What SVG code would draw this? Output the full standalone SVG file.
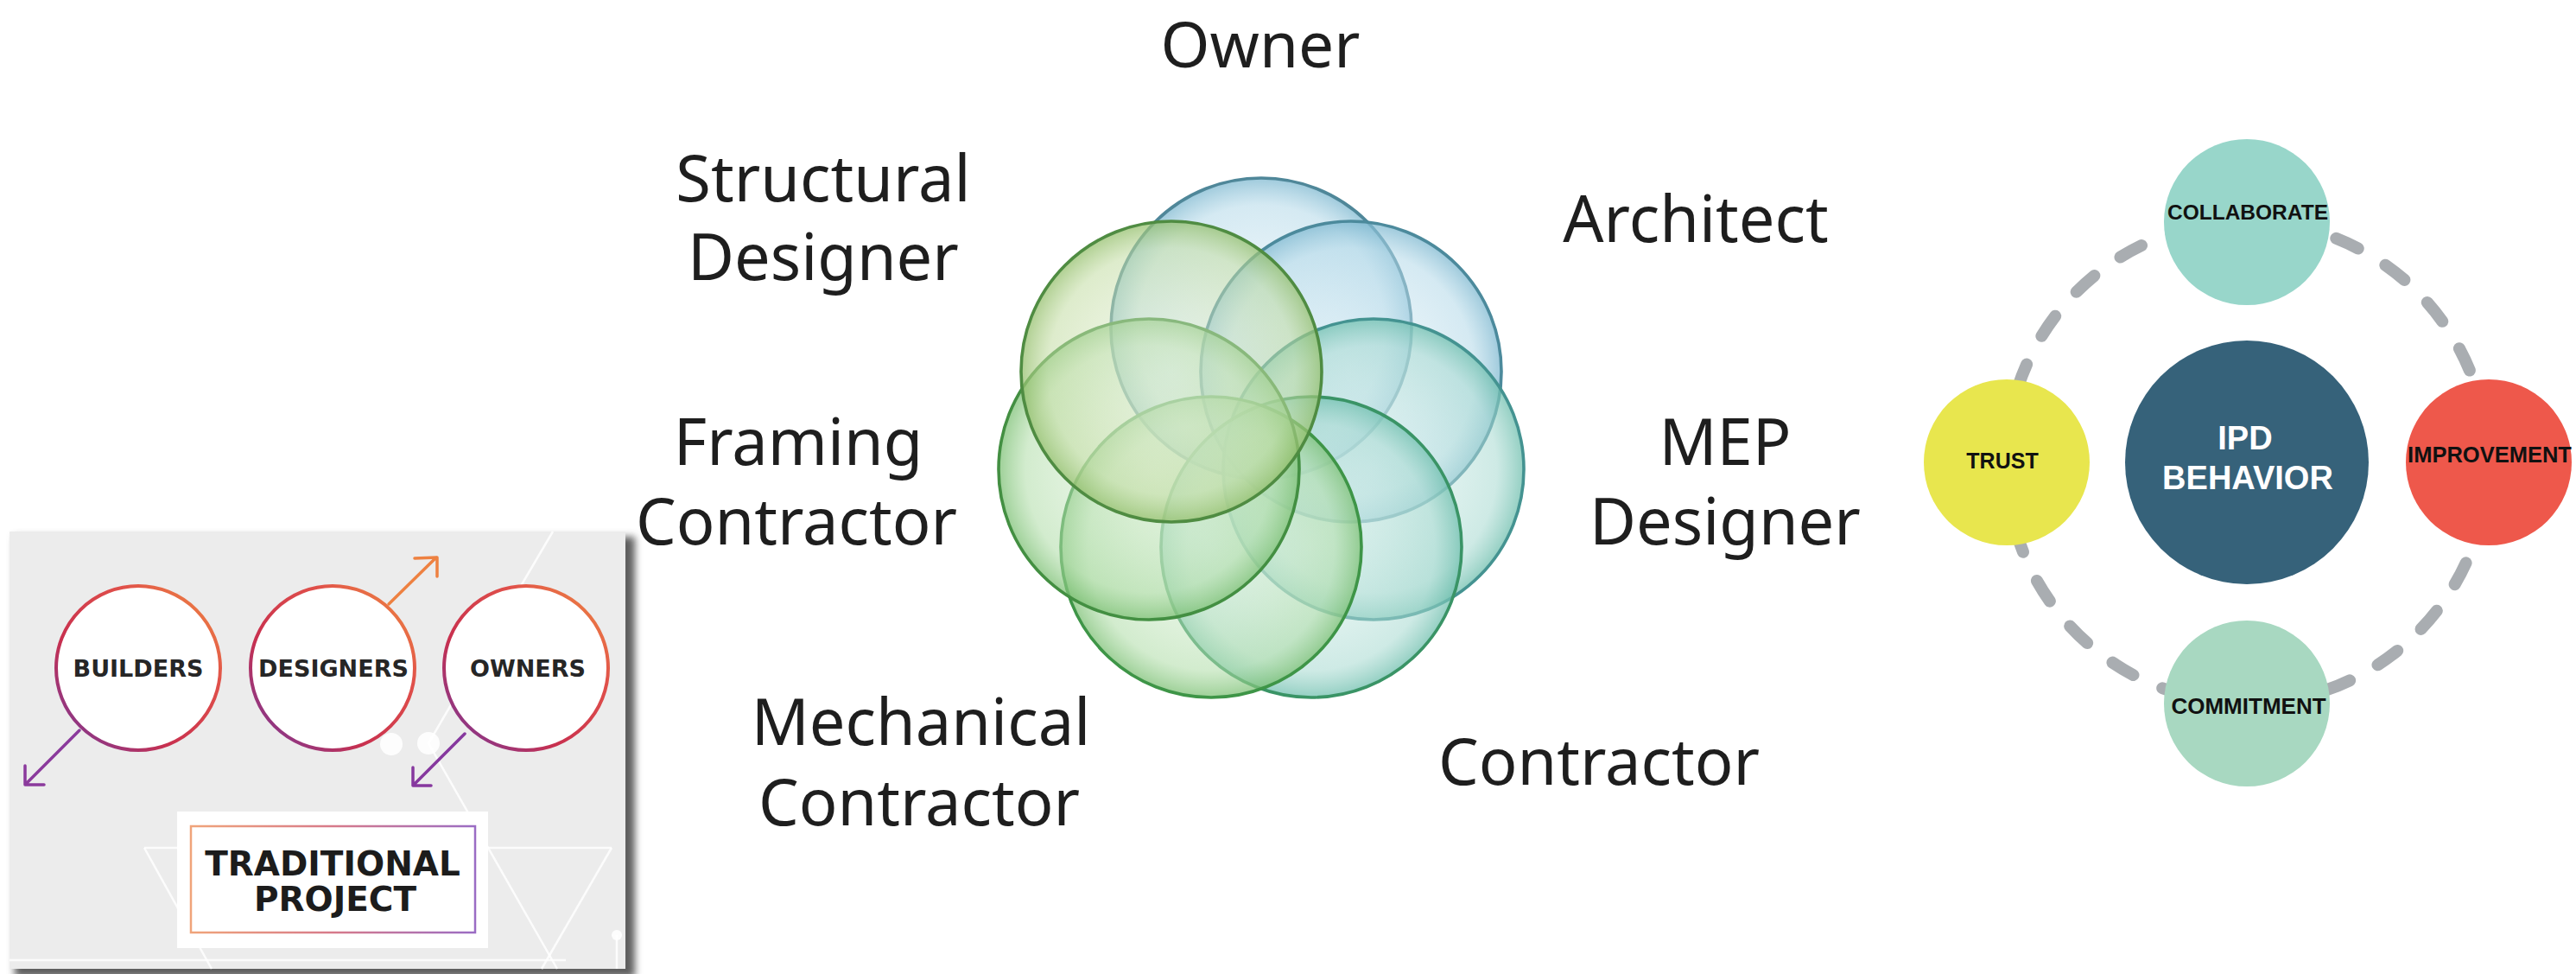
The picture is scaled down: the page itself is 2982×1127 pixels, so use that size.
<svg xmlns="http://www.w3.org/2000/svg" width="2982" height="1127" viewBox="0 0 2982 1127">
<defs>
<style>
.lbl{font-family:"Noto Sans","Open Sans",sans-serif;font-size:74px;fill:#1e1e1e;text-anchor:middle}
.cl{font-family:"DejaVu Sans",sans-serif;font-weight:bold;font-size:27px;fill:#262626;text-anchor:middle}
.ring{fill:#fff;stroke:url(#ringGrad);stroke-width:4}
.wl{stroke:#ffffff;stroke-width:2.5;fill:none;opacity:0.85}
.ipd{font-family:"Liberation Sans",Arial,sans-serif;font-weight:bold;text-anchor:middle}
.pet{stroke-width:3.6}
</style>
<linearGradient id="ringGrad" x1="0" y1="1" x2="1" y2="0">
<stop offset="0" stop-color="#6e3aa2"/>
<stop offset="0.35" stop-color="#c8304f"/>
<stop offset="0.7" stop-color="#e0504a"/>
<stop offset="1" stop-color="#f19140"/>
</linearGradient>
<linearGradient id="boxGrad" x1="0" y1="0" x2="1" y2="0">
<stop offset="0" stop-color="#f0a47a"/>
<stop offset="0.5" stop-color="#d77a8a"/>
<stop offset="1" stop-color="#9a6cc4"/>
</linearGradient>
<radialGradient id="gBlue" cx="0.5" cy="0.5" r="0.5">
<stop offset="0" stop-color="#e0f0f7" stop-opacity="0.4"/>
<stop offset="0.82" stop-color="#b2d8e8" stop-opacity="0.55"/>
<stop offset="1" stop-color="#7eb8d0" stop-opacity="0.75"/>
</radialGradient>
<radialGradient id="gTeal" cx="0.5" cy="0.5" r="0.5">
<stop offset="0" stop-color="#dcf1ee" stop-opacity="0.4"/>
<stop offset="0.82" stop-color="#a6d9d0" stop-opacity="0.55"/>
<stop offset="1" stop-color="#6fbfae" stop-opacity="0.75"/>
</radialGradient>
<radialGradient id="gGreen" cx="0.5" cy="0.5" r="0.5">
<stop offset="0" stop-color="#e2f3de" stop-opacity="0.4"/>
<stop offset="0.82" stop-color="#aedca6" stop-opacity="0.55"/>
<stop offset="1" stop-color="#7cc074" stop-opacity="0.75"/>
</radialGradient>
<radialGradient id="gYG" cx="0.5" cy="0.5" r="0.5">
<stop offset="0" stop-color="#e8f0da" stop-opacity="0.4"/>
<stop offset="0.82" stop-color="#c2dca2" stop-opacity="0.55"/>
<stop offset="1" stop-color="#94bf6c" stop-opacity="0.75"/>
</radialGradient>
<filter id="shadow" x="-5%" y="-5%" width="112%" height="112%">
<feGaussianBlur stdDeviation="4"/>
</filter>
</defs>
<rect width="2982" height="1127" fill="#ffffff"/>

<!-- Left panel: traditional project -->
<g id="traditional-panel">
<rect x="17" y="621" width="718" height="510" fill="#5e5e5e" filter="url(#shadow)"/>
<rect x="11" y="615" width="713" height="506" fill="#ececec"/>
<g id="bg-lines">
<line class="wl" x1="640" y1="615" x2="496" y2="860"/>
<line class="wl" x1="496" y1="860" x2="645" y2="1121"/>
<line class="wl" x1="167" y1="981" x2="708" y2="981"/>
<line class="wl" x1="167" y1="981" x2="245" y2="1121"/>
<line class="wl" x1="708" y1="981" x2="627" y2="1121"/>
<line class="wl" x1="11" y1="1111" x2="655" y2="1111"/>
<line class="wl" x1="714" y1="1082" x2="714" y2="1121"/>
<circle cx="714" cy="1082" r="6" fill="#fff" opacity="0.9"/>
<circle cx="453" cy="861" r="13" fill="#fff" opacity="0.9"/>
<circle cx="496" cy="860" r="13" fill="#fff" opacity="0.9"/>
</g>
</g>

<g id="connectors">
<g fill="none" stroke-width="3.5" stroke-linecap="round" stroke-linejoin="round">
<path d="M92 845 L30 907 M29 886 L29 908 L51 908" stroke="#8b3a9c"/>
<path d="M450 699 L505 645 M480 646 L506 645 L506 667" stroke="#ee8141"/>
<path d="M538 849 L479 908 M478 888 L478 909 L499 909" stroke="#86389e"/>
</g>
<circle cx="2601" cy="535" r="279" fill="none" stroke="#a9adb1" stroke-width="14" stroke-linecap="round" stroke-dasharray="28 37" stroke-dashoffset="10"/>
</g>

<g id="node-builders">
<circle class="ring" cx="160" cy="773" r="95"/>
<text class="cl" x="160" y="783">BUILDERS</text>
</g>
<g id="node-designers">
<circle class="ring" cx="385" cy="773" r="95"/>
<text class="cl" x="386" y="783">DESIGNERS</text>
</g>
<g id="node-owners">
<circle class="ring" cx="609" cy="773" r="95"/>
<text class="cl" x="611" y="783">OWNERS</text>
</g>
<g id="node-traditional-project">
<rect x="205" y="939" width="360" height="158" fill="#ffffff"/>
<rect x="221" y="956" width="329" height="123" fill="none" stroke="url(#boxGrad)" stroke-width="2.5"/>
<text class="cl" x="385" y="1013" style="font-size:39px;fill:#1c1c1c">TRADITIONAL</text>
<text class="cl" x="388" y="1054" style="font-size:39px;fill:#1c1c1c">PROJECT</text>
</g>

<!-- Middle: Venn flower -->
<g id="venn-flower">
<circle class="pet" cx="1460" cy="380" r="174" fill="url(#gBlue)" stroke="#4f8799"/>
<circle class="pet" cx="1564" cy="430" r="174" fill="url(#gBlue)" stroke="#4c8a9c"/>
<circle class="pet" cx="1590" cy="543" r="174" fill="url(#gTeal)" stroke="#449391"/>
<circle class="pet" cx="1518" cy="633" r="174" fill="url(#gTeal)" stroke="#3a9466"/>
<circle class="pet" cx="1402" cy="633" r="174" fill="url(#gGreen)" stroke="#3e9547"/>
<circle class="pet" cx="1330" cy="543" r="174" fill="url(#gGreen)" stroke="#438f42"/>
<circle class="pet" cx="1356" cy="430" r="174" fill="url(#gYG)" stroke="#4f8c42"/>
</g>
<g id="node-owner"><text class="lbl" x="1459" y="78" style="font-size:73px">Owner</text></g>
<g id="node-architect"><text class="lbl" x="1963" y="280">Architect</text></g>
<g id="node-mep-designer"><text class="lbl" x="1997" y="538">MEP</text><text class="lbl" x="1997" y="630">Designer</text></g>
<g id="node-contractor"><text class="lbl" x="1851" y="908">Contractor</text></g>
<g id="node-mechanical-contractor"><text class="lbl" x="1066" y="862">Mechanical</text><text class="lbl" x="1064" y="955">Contractor</text></g>
<g id="node-framing-contractor"><text class="lbl" x="924" y="538">Framing</text><text class="lbl" x="922" y="630">Contractor</text></g>
<g id="node-structural-designer"><text class="lbl" x="953" y="233">Structural</text><text class="lbl" x="953" y="324">Designer</text></g>

<!-- Right: IPD behavior -->
<g id="node-ipd-behavior">
<circle cx="2601" cy="535" r="141" fill="#36627a"/>
<text class="ipd" x="2599" y="520" font-size="38" fill="#ffffff">IPD</text>
<text class="ipd" x="2602" y="566" font-size="38" fill="#ffffff">BEHAVIOR</text>
</g>
<g id="node-collaborate">
<circle cx="2601" cy="257" r="96" fill="#98d6ca"/>
<text class="ipd" x="2602" y="254" font-size="24.5" fill="#111">COLLABORATE</text>
</g>
<g id="node-trust">
<circle cx="2323" cy="535" r="96" fill="#e8e64e"/>
<text class="ipd" x="2318" y="542" font-size="25" fill="#111">TRUST</text>
</g>
<g id="node-improvement">
<circle cx="2881" cy="535" r="96" fill="#ee584b"/>
<text class="ipd" x="2882" y="535" font-size="25.5" fill="#111">IMPROVEMENT</text>
</g>
<g id="node-commitment">
<circle cx="2601" cy="814" r="96" fill="#a8d8c1"/>
<text class="ipd" x="2603" y="826" font-size="26" fill="#111">COMMITMENT</text>
</g>
</svg>
